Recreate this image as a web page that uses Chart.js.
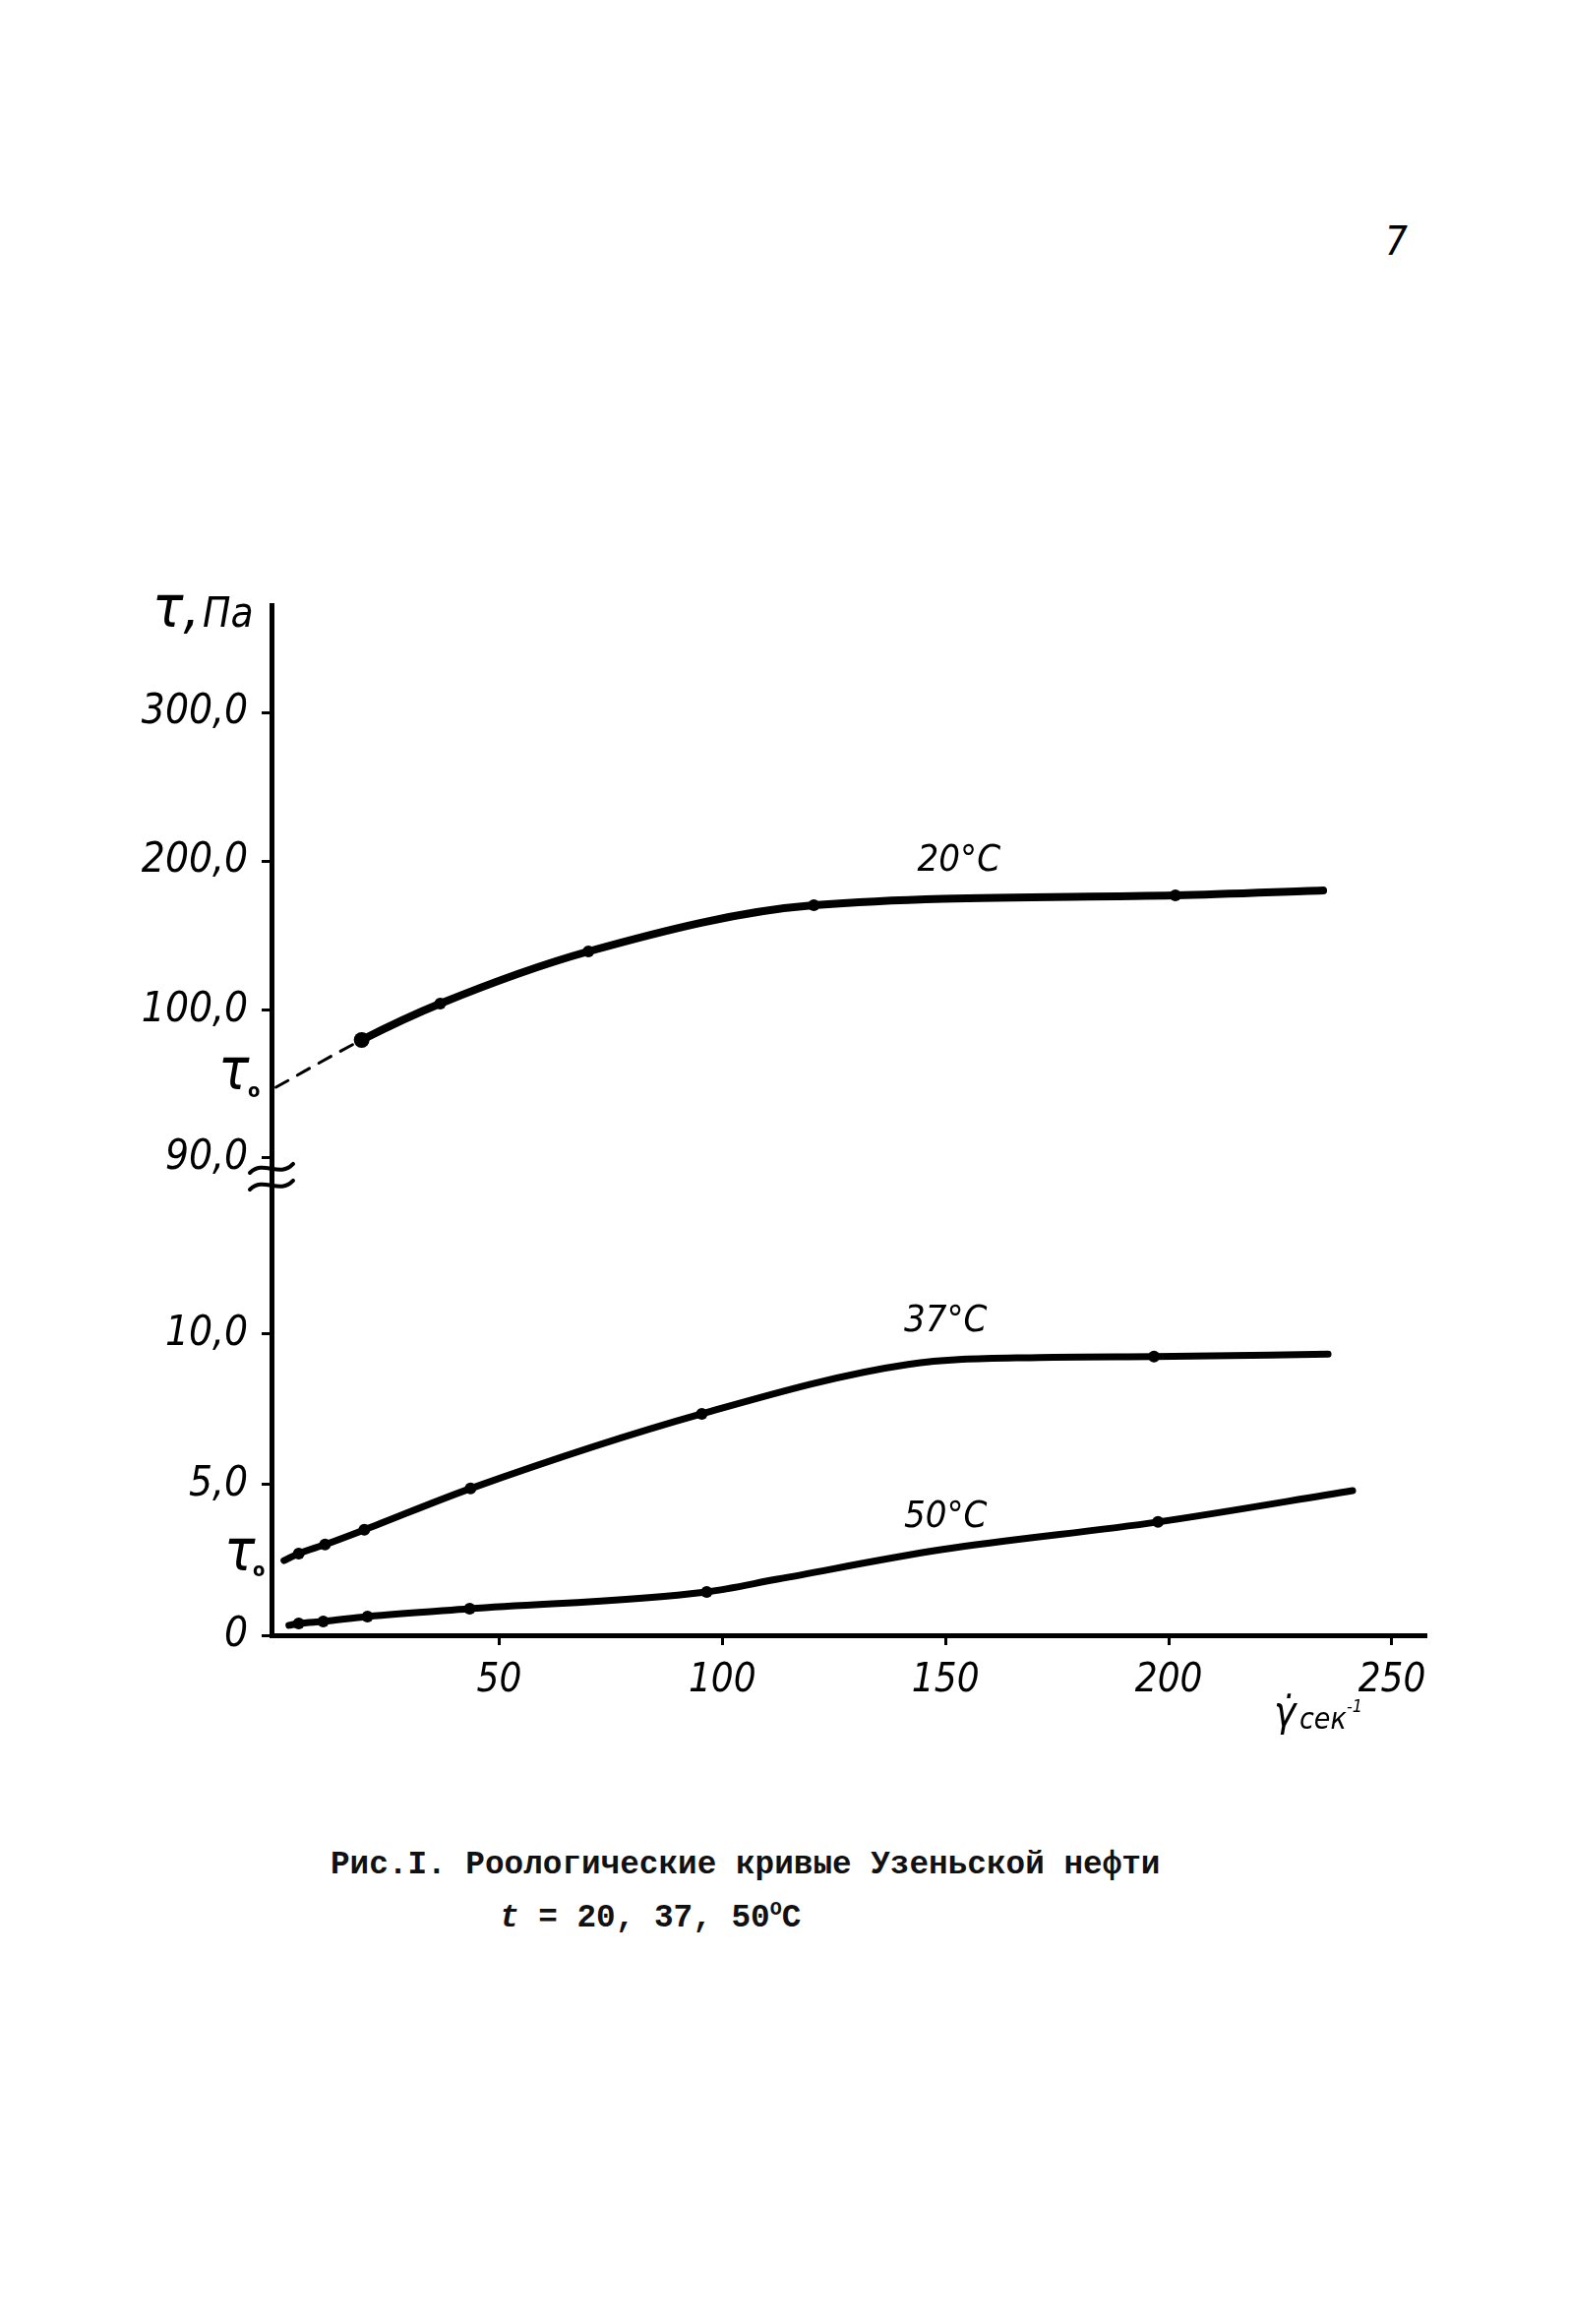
<!DOCTYPE html>
<html lang="ru">
<head>
<meta charset="utf-8">
<title>Рис.I. Роологические кривые Узеньской нефти</title>
<script src="https://cdn.jsdelivr.net/npm/chart.js@4.4.1/dist/chart.umd.min.js"></script>
<style>
  html, body { margin: 0; padding: 0; background: #fff; }
  body { width: 1595px; height: 2362px; position: relative; overflow: hidden; }
  #chartBox { position: absolute; left: 0; top: 0; width: 1595px; height: 1800px; }
  .page-no { position: absolute; left: 1408px; top: 222px; line-height: 40px;
             font: italic 40px 'DejaVu Sans Condensed', 'DejaVu Sans', sans-serif; }
  .caption { position: absolute; white-space: pre; color: #111; line-height: 34px;
             font: bold 32.7px 'Liberation Mono', 'DejaVu Sans Mono', monospace; }
  .caption sup { font-size: 20px; vertical-align: 12px; line-height: 0; }
</style>
</head>
<body>
<div class="page-no">7</div>
<div id="chartBox"><canvas id="rheoChart" width="1595" height="1800"></canvas></div>
<div class="caption" style="left:336px; top:1877px">Рис.I. Роологические кривые Узеньской нефти</div>
<div class="caption" style="left:508px; top:1931px"><i>t</i> = 20, 37, 50<sup>O</sup>C</div>

<script>
// скорость сдвига, сек^-1  /  напряжение сдвига, Па
const shear20 = [0, 19.2, 36.8, 70.0, 120.5, 201.5, 234.6];
const tau20   = [94.8, 98.0, 104.6, 139.6, 170.6, 177.2, 180.5];
const dots20  = [false, true, true, true, true, true, false];

const shear37 = [1.8, 5.1, 11.0, 19.8, 43.6, 95.4, 141.6, 171.0, 196.7, 235.7];
const tau37   = [2.48, 2.71, 3.01, 3.50, 4.87, 7.35, 8.99, 9.22, 9.25, 9.33];
const dots37  = [false, true, true, true, true, true, false, false, true, false];

const shear50 = [2.9, 5.1, 10.6, 20.5, 43.4, 96.5, 112.3, 149.0, 197.6, 241.2];
const tau50   = [0.33, 0.39, 0.46, 0.62, 0.88, 1.44, 1.86, 2.84, 3.76, 4.80];
const dots50  = [false, true, true, true, true, true, false, false, true, false];

const xTicks = [50, 100, 150, 200, 250];
const yTicks = [0, 5, 10, 90, 100, 200, 300];
const yTickLabels = ['0', '5,0', '10,0', '90,0', '100,0', '200,0', '300,0'];
const curveNames = ['20°C', '37°C', '50°C'];

const handFont = "'DejaVu Sans Condensed', 'Liberation Sans Narrow', 'DejaVu Sans', sans-serif";

// ось с разрывом: 0..14,5 внизу, затем 88..100 растянуто, 100..372 сжато
class BrokenScale extends Chart.LinearScale {
  static id = 'broken';
  static knots = [[0, 0], [14.5, 0.4241], [88, 0.4346], [100, 0.6065], [372, 1]];
  toDecimal(v) {
    const k = BrokenScale.knots;
    for (let i = 1; i < k.length; i++) {
      if (v <= k[i][0] || i === k.length - 1) {
        const t = (v - k[i - 1][0]) / (k[i][0] - k[i - 1][0]);
        return k[i - 1][1] + t * (k[i][1] - k[i - 1][1]);
      }
    }
  }
  fromDecimal(d) {
    const k = BrokenScale.knots;
    for (let i = 1; i < k.length; i++) {
      if (d <= k[i][1] || i === k.length - 1) {
        const t = (d - k[i - 1][1]) / (k[i][1] - k[i - 1][1]);
        return k[i - 1][0] + t * (k[i][0] - k[i - 1][0]);
      }
    }
  }
  getPixelForValue(value) {
    if (value === null || isNaN(value)) return NaN;
    return this.getPixelForDecimal(this.toDecimal(value));
  }
  getValueForPixel(pixel) {
    return this.fromDecimal(this.getDecimalForPixel(pixel));
  }
}
Chart.register(BrokenScale);

function makeSet(label, xs, ys, dots, width) {
  return {
    label: label,
    data: xs.map((x, i) => ({ x: x, y: ys[i] })),
    borderColor: '#000',
    borderWidth: width,
    borderCapStyle: 'round',
    cubicInterpolationMode: 'monotone',
    pointRadius: ctx => dots[ctx.dataIndex] ? 6 : 0,
    pointBackgroundColor: '#000',
    pointBorderWidth: 0,
    fill: false,
  };
}

const set20 = makeSet(curveNames[0], shear20, tau20, dots20, 8);
// экстраполяция к τ0 пунктиром
set20.segment = {
  borderDash: ctx => ctx.p0DataIndex === 0 ? [14, 11] : undefined,
  borderWidth: ctx => ctx.p0DataIndex === 0 ? 3 : undefined,
};
set20.pointRadius = ctx => dots20[ctx.dataIndex] ? (ctx.dataIndex === 1 ? 8 : 6) : 0;

const notes = {
  id: 'notes',
  afterDraw(chart) {
    const { ctx, chartArea, scales: { x, y } } = chart;
    const L = chartArea.left;
    ctx.save();
    ctx.fillStyle = '#000';
    ctx.strokeStyle = '#000';

    // подписи кривых
    ctx.font = 'italic 38px ' + handFont;
    ctx.textAlign = 'center';
    ctx.textBaseline = 'middle';
    ctx.fillText(curveNames[0], x.getPixelForValue(153), y.getPixelForValue(200));
    ctx.fillText(curveNames[1], x.getPixelForValue(150), y.getPixelForValue(10.4));
    ctx.fillText(curveNames[2], x.getPixelForValue(150), y.getPixelForValue(3.9));

    // заголовок оси Y
    ctx.textAlign = 'left';
    ctx.textBaseline = 'alphabetic';
    ctx.font = 'italic 58px ' + handFont;
    ctx.fillText('τ,', L - 121, chartArea.top + 22);
    ctx.font = 'italic 42px ' + handFont;
    ctx.fillText('Па', L - 70, chartArea.top + 22);

    // τ0 у обеих частей оси
    const t0a = y.getPixelForValue(tau20[0]);
    const t0b = y.getPixelForValue(tau37[0]);
    ctx.font = 'italic 58px ' + handFont;
    ctx.fillText('τ', L - 54, t0a + 2);
    ctx.fillText('τ', L - 48, t0b + 10);
    ctx.font = 'bold 20px ' + handFont;
    ctx.fillText('o', L - 24, t0a + 10);
    ctx.fillText('o', L - 19, t0b + 16);

    // заголовок оси X
    const B = chartArea.bottom;
    ctx.font = 'italic 42px ' + handFont;
    ctx.fillText('γ̇', chartArea.right - 154, B + 92);
    ctx.font = 'italic 30px ' + handFont;
    ctx.fillText('сек', chartArea.right - 128, B + 95);
    ctx.font = 'italic 18px ' + handFont;
    ctx.fillText('-1', chartArea.right - 80, B + 78);

    // знак разрыва оси
    const yb = y.getPixelForValue(88);
    ctx.lineWidth = 4;
    ctx.lineCap = 'round';
    [yb - 19, yb - 2].forEach(yc => {
      ctx.beginPath();
      ctx.moveTo(L - 22, yc + 4);
      ctx.bezierCurveTo(L - 8, yc - 10, L + 8, yc + 10, L + 22, yc - 5);
      ctx.stroke();
    });
    ctx.restore();
  }
};

new Chart(document.getElementById('rheoChart'), {
  type: 'line',
  data: {
    datasets: [
      set20,
      makeSet(curveNames[1], shear37, tau37, dots37, 7),
      makeSet(curveNames[2], shear50, tau50, dots50, 7),
    ]
  },
  options: {
    responsive: false,
    animation: false,
    devicePixelRatio: 1,
    layout: { autoPadding: false, padding: { left: 0, top: 615, right: 146, bottom: 0 } },
    plugins: { legend: { display: false }, tooltip: { enabled: false } },
    scales: {
      x: {
        type: 'linear',
        min: -1,
        max: 257.5,
        afterFit: a => { a.height = 138; },
        afterBuildTicks: a => { a.ticks = xTicks.map(v => ({ value: v })); },
        border: { color: '#000', width: 5 },
        grid: { drawOnChartArea: false, color: '#000', lineWidth: 3, tickLength: 10 },
        ticks: {
          color: '#000', padding: 13, autoSkip: false, maxRotation: 0,
          font: { family: handFont, size: 40, style: 'italic' },
        },
      },
      y: {
        type: 'broken',
        min: 0,
        max: 372,
        afterFit: a => { a.width = 276; },
        afterBuildTicks: a => { a.ticks = yTicks.map(v => ({ value: v })); },
        border: { color: '#000', width: 5 },
        grid: { drawOnChartArea: false, color: '#000', lineWidth: 3, tickLength: 10 },
        ticks: {
          color: '#000', padding: 14, autoSkip: false,
          callback: (v, i) => yTickLabels[i],
          font: { family: handFont, size: 42, style: 'italic' },
        },
      },
    },
  },
  plugins: [notes],
});
</script>
</body>
</html>
